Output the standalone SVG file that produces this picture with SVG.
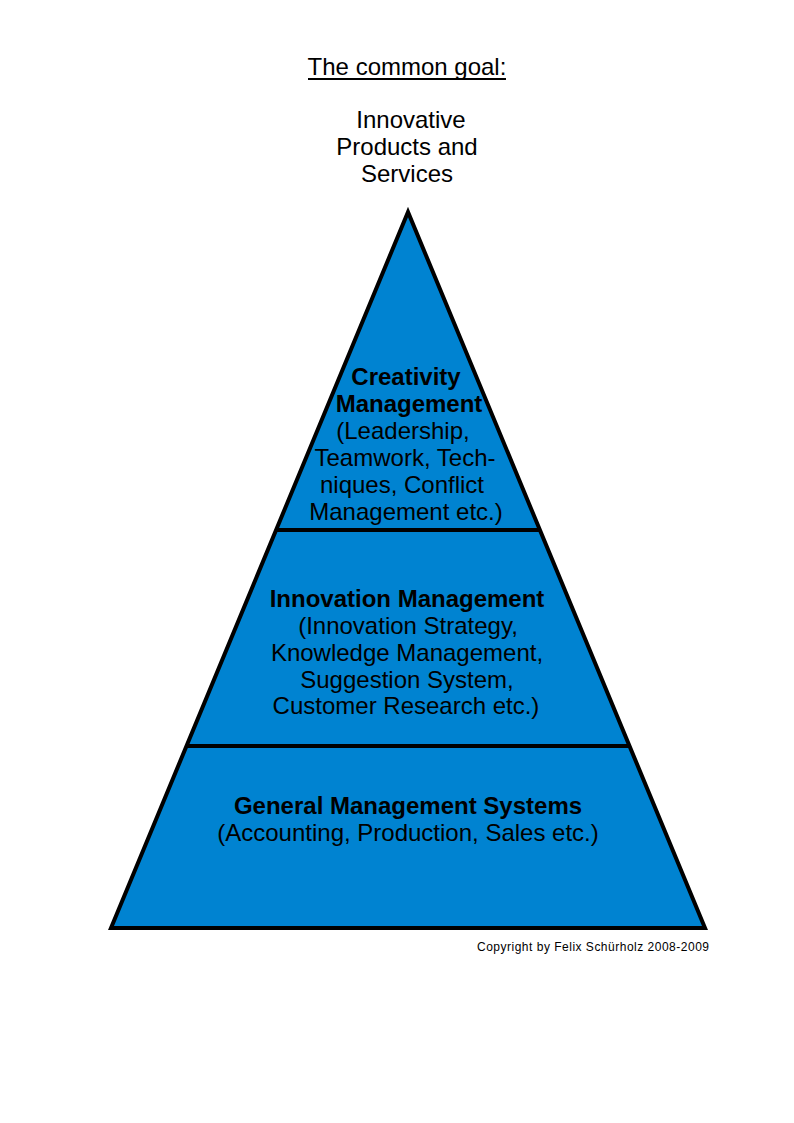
<svg xmlns="http://www.w3.org/2000/svg" width="794" height="1123" viewBox="0 0 794 1123">
  <style>
    text { font-family: "Liberation Sans", Arial, sans-serif; font-size: 24px; fill: #000; text-anchor: middle; }
    .b { font-weight: bold; }
    .tier { fill: #0083D1; stroke: none; }
    .edge { fill: none; stroke: #000; stroke-width: 4; stroke-linejoin: miter; }
    .sep { stroke: #000; stroke-width: 4; }
    .copy { font-size: 12px; text-anchor: start; }
  </style>
  <rect width="794" height="1123" fill="#fff"/>

  <g id="goal">
    <text x="407" y="75">The common goal:</text>
    <line x1="308" y1="79" x2="506" y2="79" stroke="#000" stroke-width="2"/>
    <text x="411" y="128">Innovative</text>
    <text x="407" y="155">Products and</text>
    <text x="407" y="182">Services</text>
  </g>

  <g id="pyramid">
    <polygon class="tier" points="408,212 111,928 705,928"/>
  </g>

  <g id="connectors">
    <line class="sep" x1="276" y1="530" x2="540" y2="530"/>
    <line class="sep" x1="186" y1="746" x2="630" y2="746"/>
    <polygon class="edge" points="408,212 111,928 705,928"/>
  </g>

  <g id="creativity">
    <text class="b" x="406" y="385">Creativity</text>
    <text class="b" x="409" y="412">Management</text>
    <text x="403" y="439">(Leadership,</text>
    <text x="405" y="466">Teamwork, Tech-</text>
    <text x="402" y="493">niques, Conflict</text>
    <text x="406" y="520">Management etc.)</text>
  </g>

  <g id="innovation">
    <text class="b" x="407" y="607">Innovation Management</text>
    <text x="408" y="634">(Innovation Strategy,</text>
    <text x="407" y="661">Knowledge Management,</text>
    <text x="407" y="688">Suggestion System,</text>
    <text x="406" y="714">Customer Research etc.)</text>
  </g>

  <g id="general">
    <text class="b" x="408" y="814">General Management Systems</text>
    <text x="408" y="841">(Accounting, Production, Sales etc.)</text>
  </g>

  <g id="copyright">
    <text class="copy" x="477" y="951" textLength="232" lengthAdjust="spacing">Copyright by Felix Schürholz 2008-2009</text>
  </g>
</svg>
